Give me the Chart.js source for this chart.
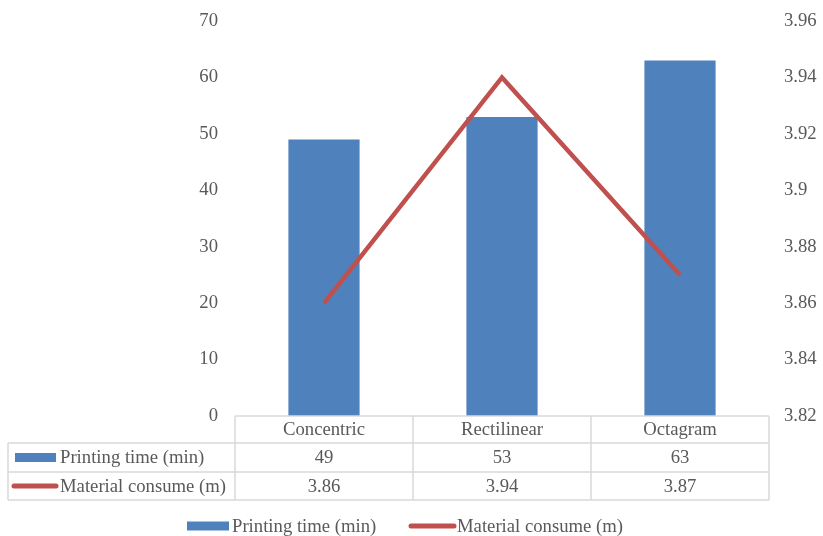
<!DOCTYPE html>
<html>
<head>
<meta charset="utf-8">
<script src="https://cdn.jsdelivr.net/npm/chart.js@4"></script>
<style>
  html, body { margin: 0; padding: 0; background: #ffffff; }
  canvas { display: block; }
</style>
</head>
<body>
<canvas id="c" width="823" height="536"></canvas>
<script>
const categories = ['Concentric', 'Rectilinear', 'Octagram'];
const printingTime = [49, 53, 63];
const materialConsume = [3.86, 3.94, 3.87];
const seriesNames = ['Printing time (min)', 'Material consume (m)'];

const BLUE = '#4f81bd';
const RED = '#c0504d';
const TEXT = '#595959';
const GRIDC = '#d9d9d9';
const FONT_FAMILY = "'Liberation Serif', 'Times New Roman', serif";
const FS = 18.7;

function drawSwatch(ctx, kind, x1, x2, yc) {
  ctx.save();
  if (kind === 0) {
    ctx.fillStyle = BLUE;
    ctx.fillRect(x1, yc - 4.5, x2 - x1, 9);
  } else {
    ctx.strokeStyle = RED;
    ctx.lineWidth = 5;
    ctx.lineCap = 'round';
    ctx.beginPath();
    ctx.moveTo(x1 + 2, yc);
    ctx.lineTo(x2 - 2, yc);
    ctx.stroke();
  }
  ctx.restore();
}

const tablePlugin = {
  id: 'dataTable',
  afterDraw(chart) {
    const ctx = chart.ctx;
    const area = chart.chartArea;
    const xs = chart.scales.x;
    const n = categories.length;
    const colW = (area.right - area.left) / n;
    const rowH = 28;
    const top = area.bottom;
    const r1 = top + rowH - 1;
    const r2 = r1 + rowH + 1;
    const r3 = r2 + rowH;
    const leftX = 8;

    ctx.save();
    ctx.strokeStyle = GRIDC;
    ctx.lineWidth = 1.5;
    ctx.beginPath();
    ctx.moveTo(area.left, top); ctx.lineTo(area.right, top);
    [r1, r2, r3].forEach(y => { ctx.moveTo(leftX, y); ctx.lineTo(area.right, y); });
    for (let i = 0; i <= n; i++) {
      const x = area.left + colW * i;
      ctx.moveTo(x, top); ctx.lineTo(x, r3);
    }
    ctx.moveTo(leftX, r1); ctx.lineTo(leftX, r3);
    ctx.stroke();

    ctx.fillStyle = TEXT;
    ctx.font = FS + 'px ' + FONT_FAMILY;
    ctx.textBaseline = 'middle';
    ctx.textAlign = 'center';
    for (let i = 0; i < n; i++) {
      const cx = xs.getPixelForValue(i);
      ctx.fillText(categories[i], cx, (top + r1) / 2 + 1);
      ctx.fillText(String(printingTime[i]), cx, (r1 + r2) / 2 + 1);
      ctx.fillText(String(materialConsume[i]), cx, (r2 + r3) / 2 + 1);
    }
    ctx.textAlign = 'left';
    drawSwatch(ctx, 0, 15, 56, (r1 + r2) / 2);
    ctx.fillStyle = TEXT;
    ctx.fillText(seriesNames[0], 60, (r1 + r2) / 2 + 1);
    drawSwatch(ctx, 1, 12, 58, (r2 + r3) / 2);
    ctx.fillStyle = TEXT;
    ctx.fillText(seriesNames[1], 60, (r2 + r3) / 2 + 1);

    const ly = 526;
    drawSwatch(ctx, 0, 187, 229, ly);
    ctx.fillStyle = TEXT;
    ctx.fillText(seriesNames[0], 232, ly + 1);
    drawSwatch(ctx, 1, 409, 456, ly);
    ctx.fillStyle = TEXT;
    ctx.fillText(seriesNames[1], 457, ly + 1);
    ctx.restore();
  }
};

function fixAxis(w) {
  return function (scale) {
    scale.width = w;
    scale.paddingTop = 0;
    scale.paddingBottom = 0;
  };
}

new Chart(document.getElementById('c'), {
  type: 'bar',
  data: {
    labels: categories,
    datasets: [
      {
        type: 'line',
        label: seriesNames[1],
        data: materialConsume,
        yAxisID: 'y1',
        borderColor: RED,
        backgroundColor: RED,
        borderWidth: 4.5,
        pointRadius: 0,
        tension: 0,
        order: 0
      },
      {
        type: 'bar',
        label: seriesNames[0],
        data: printingTime,
        yAxisID: 'y',
        backgroundColor: BLUE,
        borderWidth: 0,
        categoryPercentage: 1,
        barPercentage: 0.4,
        order: 1
      }
    ]
  },
  options: {
    responsive: false,
    animation: false,
    devicePixelRatio: 1,
    layout: { padding: { top: 21, bottom: 120, left: 0, right: 0 } },
    plugins: {
      legend: { display: false },
      tooltip: { enabled: false }
    },
    scales: {
      x: {
        display: false,
        offset: true
      },
      y: {
        position: 'left',
        min: 0, max: 70,
        grid: { display: false, drawTicks: false },
        border: { display: false },
        ticks: {
          stepSize: 10,
          padding: 17,
          color: TEXT,
          font: { family: FONT_FAMILY, size: FS }
        },
        afterFit: fixAxis(235)
      },
      y1: {
        position: 'right',
        min: 3.82, max: 3.96,
        grid: { display: false, drawTicks: false },
        border: { display: false },
        ticks: {
          stepSize: 0.02,
          padding: 15,
          color: TEXT,
          font: { family: FONT_FAMILY, size: FS },
          callback: v => String(parseFloat(Number(v).toFixed(2)))
        },
        afterFit: fixAxis(54)
      }
    }
  },
  plugins: [tablePlugin]
});
</script>
</body>
</html>
